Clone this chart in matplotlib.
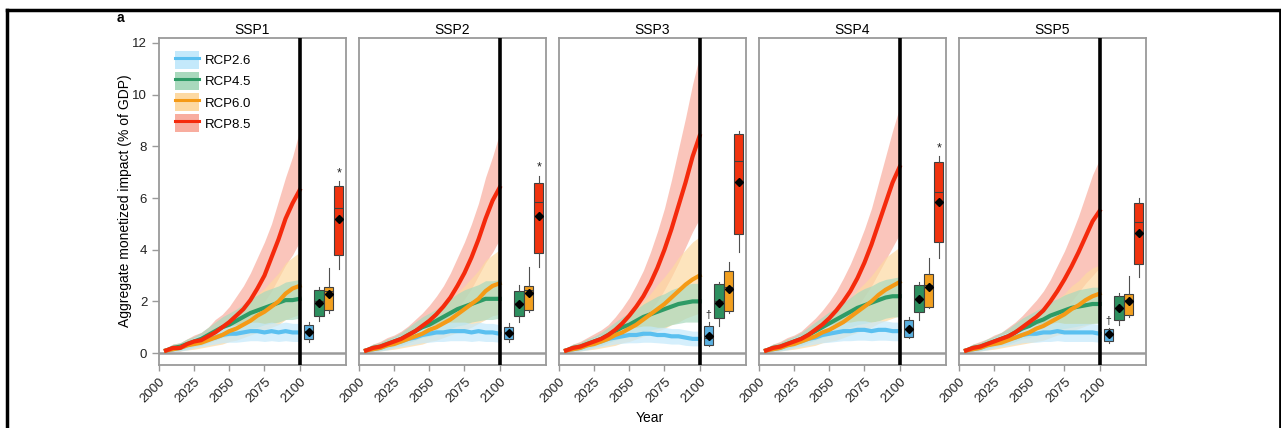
import matplotlib
matplotlib.use("Agg")
import matplotlib.pyplot as plt
from matplotlib.lines import Line2D
from matplotlib.patches import Patch
from matplotlib.legend_handler import HandlerTuple

plt.rcParams['font.family'] = ['Liberation Sans', 'DejaVu Sans']

# ---------------- data ----------------
years = [2005, 2010, 2015, 2020, 2025, 2030, 2035, 2040, 2045, 2050,
         2055, 2060, 2065, 2070, 2075, 2080, 2085, 2090, 2095, 2100]
ssps = ["SSP1", "SSP2", "SSP3", "SSP4", "SSP5"]
rcps = ["RCP2.6", "RCP4.5", "RCP6.0", "RCP8.5"]
xticks = [2000, 2025, 2050, 2075, 2100]
yticks = [0, 2, 4, 6, 8, 10, 12]

# SSP1
ssp1_mid = {
    "RCP2.6": [0.1,0.15,0.2,0.3,0.4,0.45,0.55,0.6,0.7,0.75,0.75,0.8,0.85,0.85,0.8,0.85,0.8,0.85,0.8,0.8],
    "RCP4.5": [0.1,0.2,0.25,0.35,0.45,0.55,0.7,0.85,1.0,1.1,1.25,1.4,1.55,1.65,1.75,1.85,1.95,2.05,2.05,2.1],
    "RCP6.0": [0.1,0.15,0.2,0.3,0.35,0.4,0.5,0.6,0.7,0.85,0.95,1.1,1.25,1.45,1.6,1.8,2.0,2.3,2.5,2.6],
    "RCP8.5": [0.1,0.2,0.2,0.35,0.45,0.5,0.65,0.8,1.0,1.2,1.45,1.7,2.05,2.5,3.0,3.7,4.4,5.2,5.8,6.3],
}
ssp1_lo = {
    "RCP2.6": [0.02,0.05,0.08,0.12,0.2,0.25,0.3,0.35,0.4,0.42,0.42,0.45,0.48,0.48,0.45,0.48,0.45,0.48,0.45,0.45],
    "RCP4.5": [0.02,0.08,0.1,0.15,0.25,0.3,0.4,0.5,0.6,0.65,0.75,0.85,0.95,1.0,1.1,1.15,1.2,1.3,1.3,1.35],
    "RCP6.0": [0.02,0.05,0.08,0.12,0.15,0.2,0.25,0.3,0.35,0.45,0.5,0.6,0.7,0.8,0.9,1.0,1.1,1.3,1.4,1.5],
    "RCP8.5": [0.02,0.08,0.08,0.2,0.25,0.3,0.4,0.5,0.6,0.75,0.9,1.1,1.35,1.65,2.0,2.4,2.9,3.4,3.8,4.3],
}
ssp1_hi = {
    "RCP2.6": [0.2,0.3,0.35,0.45,0.6,0.7,0.8,0.9,1.0,1.05,1.1,1.15,1.2,1.2,1.15,1.2,1.15,1.2,1.15,1.15],
    "RCP4.5": [0.2,0.35,0.4,0.55,0.65,0.8,1.0,1.2,1.4,1.55,1.7,1.9,2.1,2.25,2.4,2.5,2.6,2.75,2.8,2.85],
    "RCP6.0": [0.2,0.3,0.35,0.5,0.55,0.65,0.8,0.95,1.1,1.3,1.5,1.75,2.0,2.3,2.5,2.8,3.1,3.5,3.7,3.9],
    "RCP8.5": [0.2,0.35,0.4,0.55,0.7,0.8,1.0,1.3,1.5,1.8,2.2,2.6,3.1,3.7,4.3,5.0,5.9,6.8,7.6,8.6],
}
# SSP2
ssp2_mid = {
    "RCP2.6": [0.1,0.15,0.2,0.3,0.4,0.45,0.55,0.6,0.7,0.75,0.8,0.8,0.85,0.85,0.85,0.8,0.85,0.8,0.8,0.75],
    "RCP4.5": [0.1,0.2,0.25,0.35,0.45,0.55,0.7,0.85,1.0,1.1,1.25,1.4,1.55,1.7,1.8,1.9,2.0,2.1,2.1,2.1],
    "RCP6.0": [0.1,0.15,0.2,0.3,0.35,0.45,0.55,0.65,0.75,0.9,1.0,1.15,1.3,1.5,1.7,1.9,2.1,2.4,2.6,2.7],
    "RCP8.5": [0.1,0.2,0.25,0.35,0.45,0.55,0.7,0.85,1.05,1.25,1.5,1.8,2.15,2.6,3.1,3.7,4.4,5.2,5.9,6.4],
}
ssp2_lo = {
    "RCP2.6": [0.02,0.05,0.08,0.12,0.2,0.25,0.3,0.35,0.4,0.42,0.45,0.45,0.48,0.48,0.48,0.45,0.48,0.45,0.45,0.42],
    "RCP4.5": [0.02,0.08,0.1,0.15,0.25,0.3,0.4,0.5,0.6,0.65,0.75,0.85,0.95,1.05,1.1,1.2,1.25,1.3,1.3,1.35],
    "RCP6.0": [0.02,0.05,0.08,0.12,0.15,0.2,0.25,0.3,0.35,0.45,0.5,0.6,0.7,0.8,0.9,1.0,1.15,1.3,1.45,1.5],
    "RCP8.5": [0.02,0.08,0.1,0.2,0.25,0.3,0.4,0.5,0.65,0.8,0.95,1.15,1.4,1.7,2.1,2.5,3.0,3.5,3.9,4.4],
}
ssp2_hi = {
    "RCP2.6": [0.2,0.3,0.35,0.45,0.6,0.7,0.8,0.9,1.0,1.05,1.1,1.15,1.2,1.2,1.2,1.15,1.2,1.15,1.15,1.1],
    "RCP4.5": [0.2,0.35,0.4,0.55,0.65,0.8,1.0,1.2,1.4,1.55,1.7,1.9,2.1,2.3,2.45,2.55,2.65,2.8,2.8,2.85],
    "RCP6.0": [0.2,0.3,0.35,0.5,0.55,0.7,0.85,1.0,1.15,1.35,1.55,1.8,2.05,2.35,2.6,2.9,3.2,3.6,3.8,4.0],
    "RCP8.5": [0.2,0.35,0.45,0.6,0.7,0.85,1.05,1.3,1.55,1.85,2.2,2.6,3.1,3.7,4.3,5.0,5.8,6.8,7.6,8.5],
}
# SSP3
ssp3_mid = {
    "RCP2.6": [0.1,0.15,0.2,0.3,0.4,0.45,0.55,0.6,0.65,0.7,0.7,0.75,0.75,0.7,0.7,0.65,0.65,0.6,0.55,0.55],
    "RCP4.5": [0.1,0.2,0.25,0.35,0.45,0.55,0.7,0.85,1.0,1.1,1.25,1.4,1.5,1.6,1.7,1.8,1.9,1.95,2.0,2.0],
    "RCP6.0": [0.1,0.15,0.2,0.3,0.35,0.45,0.55,0.7,0.8,0.95,1.1,1.3,1.5,1.7,1.9,2.15,2.4,2.65,2.85,3.0],
    "RCP8.5": [0.1,0.2,0.25,0.35,0.45,0.55,0.7,0.9,1.15,1.45,1.8,2.2,2.7,3.3,4.0,4.8,5.7,6.6,7.6,8.4],
}
ssp3_lo = {
    "RCP2.6": [0.02,0.05,0.08,0.12,0.2,0.25,0.3,0.35,0.38,0.4,0.4,0.42,0.42,0.4,0.38,0.35,0.35,0.3,0.28,0.28],
    "RCP4.5": [0.02,0.08,0.1,0.15,0.25,0.3,0.4,0.5,0.6,0.65,0.75,0.85,0.9,0.95,1.0,1.1,1.15,1.2,1.2,1.2],
    "RCP6.0": [0.02,0.05,0.08,0.12,0.15,0.2,0.25,0.3,0.4,0.45,0.55,0.65,0.75,0.85,0.95,1.1,1.2,1.35,1.45,1.55],
    "RCP8.5": [0.02,0.08,0.1,0.2,0.25,0.3,0.4,0.55,0.7,0.9,1.1,1.35,1.65,2.0,2.45,2.95,3.5,4.1,4.7,5.2],
}
ssp3_hi = {
    "RCP2.6": [0.2,0.3,0.35,0.45,0.6,0.7,0.8,0.9,0.95,1.0,1.0,1.05,1.05,1.0,1.0,0.95,0.95,0.9,0.85,0.85],
    "RCP4.5": [0.2,0.35,0.4,0.55,0.65,0.8,1.0,1.2,1.4,1.55,1.7,1.9,2.05,2.2,2.3,2.45,2.55,2.65,2.7,2.7],
    "RCP6.0": [0.2,0.3,0.35,0.5,0.55,0.7,0.85,1.05,1.25,1.45,1.7,2.0,2.3,2.65,2.95,3.3,3.7,4.0,4.3,4.5],
    "RCP8.5": [0.2,0.35,0.45,0.6,0.75,0.9,1.1,1.4,1.75,2.15,2.65,3.2,3.9,4.7,5.6,6.7,7.9,9.1,10.4,11.5],
}
# SSP4
ssp4_mid = {
    "RCP2.6": [0.1,0.15,0.2,0.3,0.4,0.45,0.55,0.6,0.7,0.75,0.8,0.85,0.85,0.9,0.9,0.85,0.9,0.9,0.85,0.85],
    "RCP4.5": [0.1,0.2,0.25,0.35,0.45,0.55,0.7,0.85,1.0,1.15,1.3,1.45,1.6,1.75,1.85,1.95,2.05,2.15,2.2,2.2],
    "RCP6.0": [0.1,0.15,0.2,0.3,0.35,0.45,0.55,0.65,0.8,0.9,1.05,1.2,1.4,1.6,1.8,2.0,2.25,2.45,2.6,2.75],
    "RCP8.5": [0.1,0.2,0.25,0.35,0.45,0.55,0.7,0.9,1.1,1.35,1.65,2.0,2.4,2.9,3.5,4.2,5.0,5.8,6.6,7.2],
}
ssp4_lo = {
    "RCP2.6": [0.02,0.05,0.08,0.12,0.2,0.25,0.3,0.35,0.4,0.42,0.45,0.48,0.48,0.5,0.5,0.48,0.5,0.5,0.48,0.48],
    "RCP4.5": [0.02,0.08,0.1,0.15,0.25,0.3,0.4,0.5,0.6,0.7,0.8,0.9,1.0,1.1,1.15,1.2,1.25,1.35,1.4,1.4],
    "RCP6.0": [0.02,0.05,0.08,0.12,0.15,0.2,0.25,0.3,0.4,0.45,0.5,0.6,0.7,0.8,0.9,1.0,1.15,1.25,1.35,1.45],
    "RCP8.5": [0.02,0.08,0.1,0.2,0.25,0.3,0.4,0.55,0.65,0.85,1.0,1.2,1.5,1.8,2.2,2.6,3.1,3.6,4.1,4.6],
}
ssp4_hi = {
    "RCP2.6": [0.2,0.3,0.35,0.45,0.6,0.7,0.8,0.9,1.0,1.1,1.15,1.2,1.2,1.25,1.25,1.2,1.25,1.25,1.2,1.2],
    "RCP4.5": [0.2,0.35,0.4,0.55,0.65,0.8,1.0,1.2,1.4,1.6,1.75,1.95,2.15,2.35,2.5,2.6,2.75,2.85,2.9,2.95],
    "RCP6.0": [0.2,0.3,0.35,0.5,0.55,0.7,0.85,1.0,1.2,1.4,1.6,1.85,2.1,2.45,2.7,3.0,3.35,3.7,3.9,4.1],
    "RCP8.5": [0.2,0.35,0.45,0.6,0.7,0.85,1.1,1.35,1.65,2.0,2.4,2.9,3.45,4.1,4.8,5.6,6.6,7.6,8.6,9.5],
}
# SSP5
ssp5_mid = {
    "RCP2.6": [0.1,0.15,0.2,0.3,0.4,0.45,0.55,0.6,0.7,0.75,0.75,0.8,0.8,0.85,0.8,0.8,0.8,0.8,0.8,0.75],
    "RCP4.5": [0.1,0.2,0.25,0.35,0.45,0.55,0.65,0.8,0.95,1.05,1.2,1.3,1.45,1.55,1.65,1.75,1.8,1.85,1.9,1.9],
    "RCP6.0": [0.1,0.15,0.2,0.3,0.35,0.4,0.5,0.6,0.7,0.8,0.95,1.05,1.2,1.35,1.5,1.7,1.85,2.05,2.2,2.3],
    "RCP8.5": [0.1,0.2,0.25,0.35,0.45,0.55,0.65,0.8,1.0,1.2,1.4,1.65,2.0,2.4,2.85,3.35,3.9,4.5,5.1,5.5],
}
ssp5_lo = {
    "RCP2.6": [0.02,0.05,0.08,0.12,0.2,0.25,0.3,0.35,0.4,0.42,0.42,0.45,0.45,0.48,0.45,0.45,0.45,0.45,0.45,0.42],
    "RCP4.5": [0.02,0.08,0.1,0.15,0.25,0.3,0.35,0.45,0.55,0.6,0.7,0.75,0.85,0.9,0.95,1.0,1.05,1.1,1.15,1.15],
    "RCP6.0": [0.02,0.05,0.08,0.12,0.15,0.2,0.25,0.3,0.35,0.4,0.45,0.5,0.6,0.7,0.75,0.85,0.95,1.05,1.15,1.2],
    "RCP8.5": [0.02,0.08,0.1,0.2,0.25,0.3,0.35,0.45,0.6,0.7,0.85,1.0,1.2,1.45,1.7,2.0,2.35,2.7,3.0,3.3],
}
ssp5_hi = {
    "RCP2.6": [0.2,0.3,0.35,0.45,0.6,0.7,0.8,0.9,1.0,1.05,1.1,1.15,1.15,1.2,1.15,1.15,1.15,1.15,1.15,1.1],
    "RCP4.5": [0.2,0.35,0.4,0.55,0.65,0.8,0.95,1.15,1.35,1.5,1.65,1.8,2.0,2.1,2.25,2.35,2.45,2.5,2.55,2.55],
    "RCP6.0": [0.2,0.3,0.35,0.5,0.55,0.65,0.8,0.95,1.1,1.25,1.45,1.65,1.85,2.1,2.3,2.6,2.8,3.1,3.3,3.4],
    "RCP8.5": [0.2,0.35,0.45,0.55,0.7,0.8,1.0,1.2,1.45,1.75,2.05,2.4,2.85,3.4,3.95,4.6,5.3,6.1,6.9,7.5],
}

# Box plot statistics (2100), order RCP2.6, RCP4.5, RCP6.0, RCP8.5
box_q1 = {"SSP1": [0.54, 1.43, 1.67, 3.79], "SSP2": [0.54, 1.45, 1.67, 3.89],
          "SSP3": [0.31, 1.37, 1.64, 4.59], "SSP4": [0.61, 1.60, 1.80, 4.31],
          "SSP5": [0.48, 1.28, 1.47, 3.44]}
box_q3 = {"SSP1": [1.09, 2.44, 2.57, 6.45], "SSP2": [1.02, 2.39, 2.61, 6.58],
          "SSP3": [1.06, 2.66, 3.19, 8.49], "SSP4": [1.30, 2.64, 3.06, 7.38],
          "SSP5": [0.93, 2.22, 2.27, 5.80]}
box_med = {"SSP1": [0.85, 2.00, 2.40, 5.63], "SSP2": [0.80, 1.95, 2.45, 5.84],
           "SSP3": [0.60, 2.00, 2.55, 7.44], "SSP4": [0.95, 2.10, 2.65, 6.25],
           "SSP5": [0.75, 1.75, 2.05, 5.06]}
box_mean = {"SSP1": [0.83, 1.93, 2.29, 5.18], "SSP2": [0.78, 1.90, 2.31, 5.31],
            "SSP3": [0.68, 1.93, 2.48, 6.61], "SSP4": [0.92, 2.08, 2.57, 5.85],
            "SSP5": [0.74, 1.73, 2.03, 4.66]}
box_wlo = {"SSP1": [0.44, 1.24, 1.57, 3.26], "SSP2": [0.42, 1.19, 1.60, 3.35],
           "SSP3": [0.28, 1.06, 1.56, 3.93], "SSP4": [0.57, 1.30, 1.73, 3.69],
           "SSP5": [0.40, 1.09, 1.40, 2.96]}
box_whi = {"SSP1": [1.20, 2.57, 3.28, 6.64], "SSP2": [1.15, 2.65, 3.35, 6.86],
           "SSP3": [1.21, 2.76, 3.54, 8.58], "SSP4": [1.38, 2.76, 3.67, 7.61],
           "SSP5": [0.98, 2.33, 2.98, 6.00]}
box_mark = {"SSP1": ["", "", "", "*"], "SSP2": ["", "", "", "*"],
            "SSP3": ["\u2020", "", "", ""], "SSP4": ["", "", "", "*"],
            "SSP5": ["\u2020", "", "", ""]}

mids = [ssp1_mid, ssp2_mid, ssp3_mid, ssp4_mid, ssp5_mid]
los = [ssp1_lo, ssp2_lo, ssp3_lo, ssp4_lo, ssp5_lo]
his = [ssp1_hi, ssp2_hi, ssp3_hi, ssp4_hi, ssp5_hi]

# ---------------- style ----------------
line_col = {"RCP2.6": "#5bc0f0", "RCP4.5": "#2e9b66", "RCP6.0": "#f59a16", "RCP8.5": "#f52a0c"}
band_col = {"RCP2.6": "#c4e9fb", "RCP4.5": "#a9d9bd", "RCP6.0": "#fdd9a2", "RCP8.5": "#f8ad9f"}
box_col = {"RCP2.6": "#5ab0e0", "RCP4.5": "#2e9060", "RCP6.0": "#f2a020", "RCP8.5": "#f0330f"}
box_pos = [2106.4, 2113.6, 2120.7, 2127.8]
box_w = 6.8

W, H = 1281, 428
fig = plt.figure(figsize=(W / 100, H / 100), dpi=100)

gray = "#9a9a9a"
for i, ssp in enumerate(ssps):
    left = (159 + 200 * i) / W
    ax = fig.add_axes([left, 1 - 365 / H, 187 / W, (365 - 38) / H])
    ax.set_xlim(2000, 2133)
    ax.set_ylim(-0.46, 12.19)
    # bands
    for r in ["RCP8.5", "RCP6.0", "RCP4.5", "RCP2.6"]:
        ax.fill_between(years, los[i][r], his[i][r], color=band_col[r], alpha=0.7, lw=0, zorder=1)
    ax.axhline(0, color=gray, lw=1.8, zorder=2)
    for r in rcps:
        ax.plot(years, mids[i][r], color=line_col[r], lw=3.0, zorder=3, solid_joinstyle='round')
    ax.axvline(2100, color="black", lw=2.6, zorder=5)
    # box plots
    stats = []
    for k, r in enumerate(rcps):
        stats.append(dict(med=box_med[ssp][k], q1=box_q1[ssp][k], q3=box_q3[ssp][k],
                          whislo=box_wlo[ssp][k], whishi=box_whi[ssp][k],
                          mean=box_mean[ssp][k], fliers=[]))
    bp = ax.bxp(stats, positions=box_pos, widths=box_w, patch_artist=True,
                showmeans=True, showcaps=False, manage_ticks=False,
                boxprops=dict(edgecolor="#404040", lw=0.8),
                whiskerprops=dict(color="#505050", lw=0.8),
                medianprops=dict(color="#404040", lw=0.8),
                meanprops=dict(marker="D", markerfacecolor="black", markeredgecolor="black",
                               markersize=4.5))
    for patch, r in zip(bp['boxes'], rcps):
        patch.set_facecolor(box_col[r])
    for k, r in enumerate(rcps):
        m = box_mark[ssp][k]
        if m:
            ax.text(box_pos[k], box_whi[ssp][k] + 0.08, m, ha="center", va="bottom",
                    fontsize=9 if m == "*" else 7.5, color="#222222")
    for s in ax.spines.values():
        s.set_color(gray)
        s.set_linewidth(1.3)
    ax.set_xticks(xticks)
    ax.set_xticklabels([str(t) for t in xticks], rotation=45, ha="right",
                       rotation_mode="anchor", fontsize=9.5)
    ax.tick_params(axis="x", colors=gray, labelcolor="#222222", length=4, width=1)
    if i == 0:
        ax.set_yticks(yticks)
        ax.set_yticklabels([str(t) for t in yticks], fontsize=9.5)
        ax.tick_params(axis="y", colors=gray, labelcolor="#222222", length=5, width=1)
        handles = [(Patch(facecolor=band_col[r], edgecolor="none"),
                    Line2D([], [], color=line_col[r], lw=2.2)) for r in rcps]
        ax.legend(handles, rcps, handler_map={tuple: HandlerTuple(ndivide=1, pad=0)},
                  loc="upper left", bbox_to_anchor=(0.045, 0.985), frameon=False,
                  fontsize=9.5, handlelength=1.8, handleheight=1.75, labelspacing=0.22,
                  handletextpad=0.45, borderaxespad=0.2)
    else:
        ax.set_yticks([])
    ax.set_title(ssp, fontsize=10, pad=3)

fig.text(125 / W, 1 - 201 / H, "Aggregate monetized impact (% of GDP)", rotation=90,
         ha="center", va="center", fontsize=10)
fig.text(650 / W, 1 - 418 / H, "Year", ha="center", va="center", fontsize=10)
fig.text(120 / W, 1 - 18 / H, "a", ha="center", va="center", fontsize=10, fontweight="bold")

# figure frame
fig.add_artist(Line2D([7 / W, 7 / W], [0, 1 - 10 / H], color="black", lw=2.5))
fig.add_artist(Line2D([7 / W, 1279.5 / W], [1 - 10 / H, 1 - 10 / H], color="black", lw=2.5))
fig.add_artist(Line2D([1279.5 / W, 1279.5 / W], [0, 1 - 10 / H], color="black", lw=2))

fig.savefig("out.png", dpi=100)
